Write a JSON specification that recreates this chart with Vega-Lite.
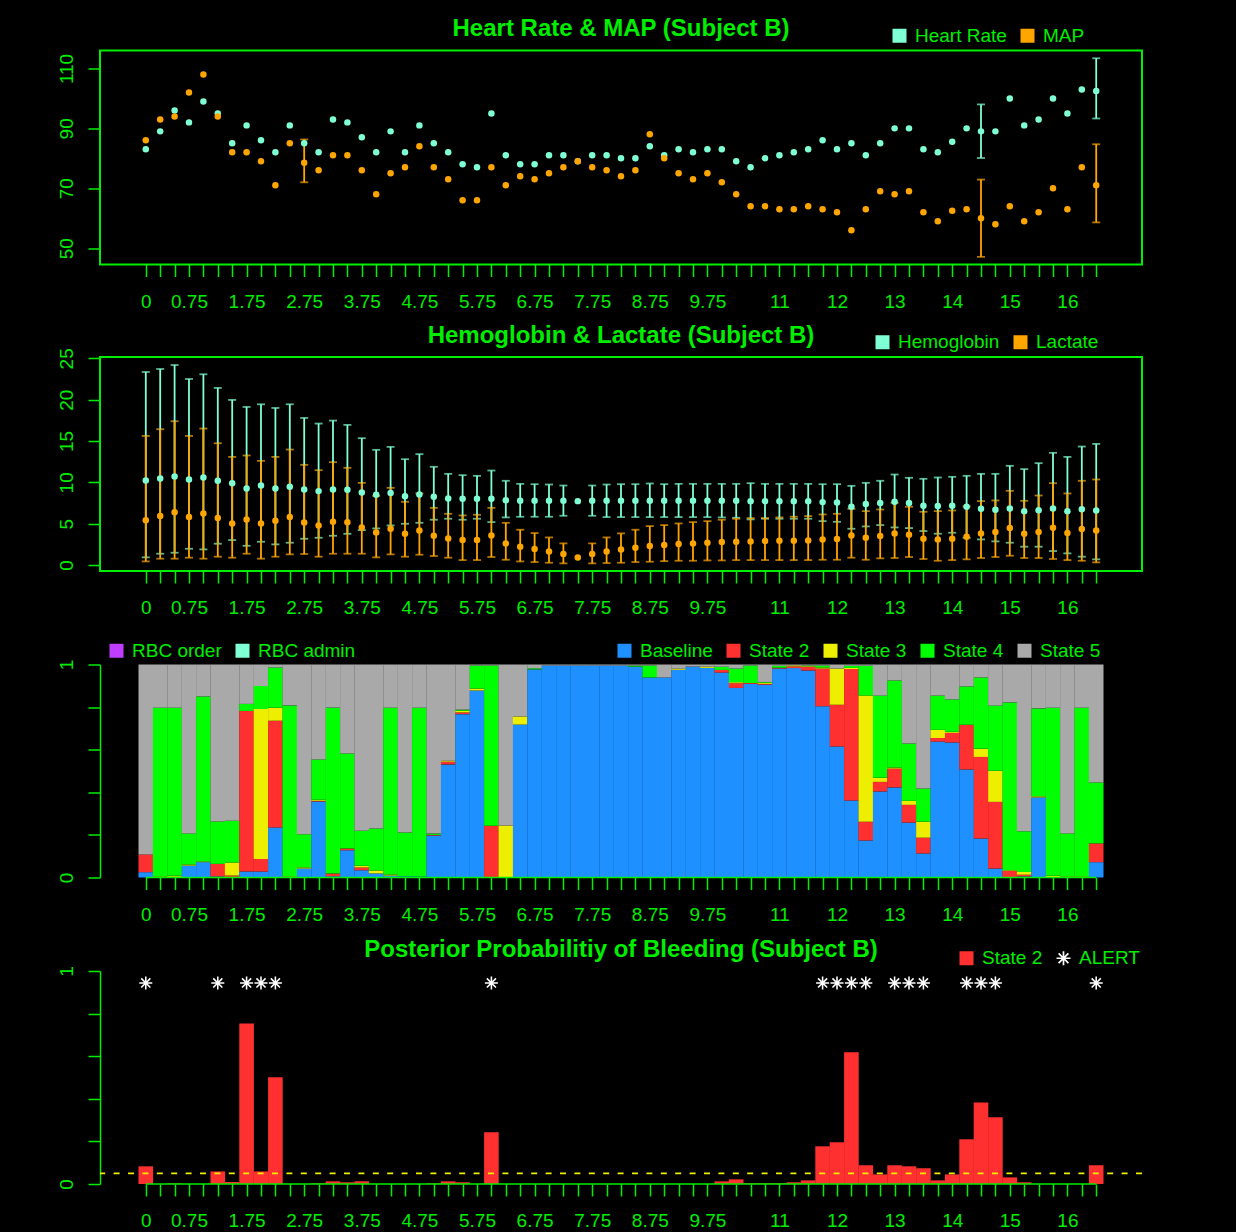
{
"$schema": "https://vega.github.io/schema/vega-lite/v6.json",
"background": "black",
"padding": {"left": 55, "top": 15.5, "right": 94, "bottom": 2},
"spacing": 9.5,
"config": {
  "font": "Liberation Sans",
  "view": {"stroke": null},
  "axis": {"domainColor": "#00EE00", "tickColor": "#00EE00", "labelColor": "#00EE00", "labelFontSize": 19, "labelFont": "Liberation Sans", "tickSize": 12, "tickWidth": 1.5, "domainWidth": 1.5, "grid": false, "labelOverlap": false, "labelFlush": false, "labelBound": false},
  "legend": {"orient": "none", "direction": "horizontal", "title": null, "labelColor": "#00EE00", "labelFontSize": 19, "labelFont": "Liberation Sans", "symbolType": "square", "symbolSize": 196, "symbolStrokeWidth": 0, "symbolOpacity": 1, "columnPadding": 11, "labelOffset": 6, "padding": 0},
  "title": {"color": "#00EE00", "fontSize": 24, "font": "Liberation Sans", "fontWeight": "bold", "anchor": "middle", "frame": "group", "offset": 0}
},
"resolve": {"scale": {"color": "independent", "shape": "independent", "y": "independent", "x": "independent"}, "legend": {"color": "independent", "shape": "independent"}},
"datasets": {
"vitals": [
{"t":0,"s":"Heart Rate","v":83},{"t":0.25,"s":"Heart Rate","v":89},{"t":0.5,"s":"Heart Rate","v":96},{"t":0.75,"s":"Heart Rate","v":92},{"t":1,"s":"Heart Rate","v":99},{"t":1.25,"s":"Heart Rate","v":95},{"t":1.5,"s":"Heart Rate","v":85},{"t":1.75,"s":"Heart Rate","v":91},{"t":2,"s":"Heart Rate","v":86},{"t":2.25,"s":"Heart Rate","v":82},{"t":2.5,"s":"Heart Rate","v":91},{"t":2.75,"s":"Heart Rate","v":85},{"t":3,"s":"Heart Rate","v":82},{"t":3.25,"s":"Heart Rate","v":93},{"t":3.5,"s":"Heart Rate","v":92},{"t":3.75,"s":"Heart Rate","v":87},{"t":4,"s":"Heart Rate","v":82},{"t":4.25,"s":"Heart Rate","v":89},{"t":4.5,"s":"Heart Rate","v":82},{"t":4.75,"s":"Heart Rate","v":91},{"t":5,"s":"Heart Rate","v":85},{"t":5.25,"s":"Heart Rate","v":82},{"t":5.5,"s":"Heart Rate","v":78},{"t":5.75,"s":"Heart Rate","v":77},{"t":6,"s":"Heart Rate","v":95},{"t":6.25,"s":"Heart Rate","v":81},{"t":6.5,"s":"Heart Rate","v":78},{"t":6.75,"s":"Heart Rate","v":78},{"t":7,"s":"Heart Rate","v":81},{"t":7.25,"s":"Heart Rate","v":81},{"t":7.5,"s":"Heart Rate","v":79},{"t":7.75,"s":"Heart Rate","v":81},{"t":8,"s":"Heart Rate","v":81},{"t":8.25,"s":"Heart Rate","v":80},{"t":8.5,"s":"Heart Rate","v":80},{"t":8.75,"s":"Heart Rate","v":84},{"t":9,"s":"Heart Rate","v":81},{"t":9.25,"s":"Heart Rate","v":83},{"t":9.5,"s":"Heart Rate","v":82},{"t":9.75,"s":"Heart Rate","v":83},{"t":10,"s":"Heart Rate","v":83},{"t":10.25,"s":"Heart Rate","v":79},{"t":10.5,"s":"Heart Rate","v":77},{"t":10.75,"s":"Heart Rate","v":80},{"t":11,"s":"Heart Rate","v":81},{"t":11.25,"s":"Heart Rate","v":82},{"t":11.5,"s":"Heart Rate","v":83},{"t":11.75,"s":"Heart Rate","v":86},{"t":12,"s":"Heart Rate","v":83},{"t":12.25,"s":"Heart Rate","v":85},{"t":12.5,"s":"Heart Rate","v":81},{"t":12.75,"s":"Heart Rate","v":85},{"t":13,"s":"Heart Rate","v":90},{"t":13.25,"s":"Heart Rate","v":90},{"t":13.5,"s":"Heart Rate","v":83},{"t":13.75,"s":"Heart Rate","v":82},{"t":14,"s":"Heart Rate","v":85.5},{"t":14.25,"s":"Heart Rate","v":90},{"t":14.5,"s":"Heart Rate","v":89,"lo":80.1,"hi":98},{"t":14.75,"s":"Heart Rate","v":89},{"t":15,"s":"Heart Rate","v":100},{"t":15.25,"s":"Heart Rate","v":91},{"t":15.5,"s":"Heart Rate","v":93},{"t":15.75,"s":"Heart Rate","v":100},{"t":16,"s":"Heart Rate","v":95},{"t":16.25,"s":"Heart Rate","v":103},{"t":16.5,"s":"Heart Rate","v":102.5,"lo":93.3,"hi":113.4},
{"t":0,"s":"MAP","v":86},{"t":0.25,"s":"MAP","v":93},{"t":0.5,"s":"MAP","v":94},{"t":0.75,"s":"MAP","v":102},{"t":1,"s":"MAP","v":108},{"t":1.25,"s":"MAP","v":94},{"t":1.5,"s":"MAP","v":82},{"t":1.75,"s":"MAP","v":82},{"t":2,"s":"MAP","v":79},{"t":2.25,"s":"MAP","v":71},{"t":2.5,"s":"MAP","v":85},{"t":2.75,"s":"MAP","v":78.5,"lo":72,"hi":86.3},{"t":3,"s":"MAP","v":76},{"t":3.25,"s":"MAP","v":81},{"t":3.5,"s":"MAP","v":81},{"t":3.75,"s":"MAP","v":76},{"t":4,"s":"MAP","v":68},{"t":4.25,"s":"MAP","v":75},{"t":4.5,"s":"MAP","v":77},{"t":4.75,"s":"MAP","v":84},{"t":5,"s":"MAP","v":77},{"t":5.25,"s":"MAP","v":73},{"t":5.5,"s":"MAP","v":66},{"t":5.75,"s":"MAP","v":66},{"t":6,"s":"MAP","v":77},{"t":6.25,"s":"MAP","v":71},{"t":6.5,"s":"MAP","v":74},{"t":6.75,"s":"MAP","v":73},{"t":7,"s":"MAP","v":75},{"t":7.25,"s":"MAP","v":77},{"t":7.5,"s":"MAP","v":79},{"t":7.75,"s":"MAP","v":77},{"t":8,"s":"MAP","v":76},{"t":8.25,"s":"MAP","v":74},{"t":8.5,"s":"MAP","v":76},{"t":8.75,"s":"MAP","v":88},{"t":9,"s":"MAP","v":80},{"t":9.25,"s":"MAP","v":75},{"t":9.5,"s":"MAP","v":73},{"t":9.75,"s":"MAP","v":75},{"t":10,"s":"MAP","v":72},{"t":10.25,"s":"MAP","v":68},{"t":10.5,"s":"MAP","v":64},{"t":10.75,"s":"MAP","v":64},{"t":11,"s":"MAP","v":63},{"t":11.25,"s":"MAP","v":63},{"t":11.5,"s":"MAP","v":64},{"t":11.75,"s":"MAP","v":63},{"t":12,"s":"MAP","v":62},{"t":12.25,"s":"MAP","v":56},{"t":12.5,"s":"MAP","v":63},{"t":12.75,"s":"MAP","v":69},{"t":13,"s":"MAP","v":68},{"t":13.25,"s":"MAP","v":69},{"t":13.5,"s":"MAP","v":62},{"t":13.75,"s":"MAP","v":59},{"t":14,"s":"MAP","v":62.5},{"t":14.25,"s":"MAP","v":63},{"t":14.5,"s":"MAP","v":60,"lo":47.1,"hi":72.9},{"t":14.75,"s":"MAP","v":58},{"t":15,"s":"MAP","v":64},{"t":15.25,"s":"MAP","v":59},{"t":15.5,"s":"MAP","v":62},{"t":15.75,"s":"MAP","v":70},{"t":16,"s":"MAP","v":63},{"t":16.25,"s":"MAP","v":77},{"t":16.5,"s":"MAP","v":71,"lo":58.6,"hi":84.7}
],
"labs": [
{"t":0,"s":"Hemoglobin","v":10.23,"lo":0.93,"hi":23.35},{"t":0.25,"s":"Hemoglobin","v":10.47,"lo":1.37,"hi":23.71},{"t":0.5,"s":"Hemoglobin","v":10.71,"lo":1.49,"hi":24.19},{"t":0.75,"s":"Hemoglobin","v":10.35,"lo":1.97,"hi":22.5},{"t":1,"s":"Hemoglobin","v":10.59,"lo":1.89,"hi":23.07},{"t":1.25,"s":"Hemoglobin","v":10.19,"lo":2.58,"hi":21.42},{"t":1.5,"s":"Hemoglobin","v":9.9,"lo":3.02,"hi":19.97},{"t":1.75,"s":"Hemoglobin","v":9.26,"lo":2.33,"hi":19.12},{"t":2,"s":"Hemoglobin","v":9.62,"lo":2.82,"hi":19.44},{"t":2.25,"s":"Hemoglobin","v":9.26,"lo":2.5,"hi":19.0},{"t":2.5,"s":"Hemoglobin","v":9.46,"lo":2.7,"hi":19.44},{"t":2.75,"s":"Hemoglobin","v":9.14,"lo":3.18,"hi":17.79},{"t":3,"s":"Hemoglobin","v":8.94,"lo":3.3,"hi":17.11},{"t":3.25,"s":"Hemoglobin","v":9.14,"lo":3.54,"hi":17.47},{"t":3.5,"s":"Hemoglobin","v":9.1,"lo":3.78,"hi":16.95},{"t":3.75,"s":"Hemoglobin","v":8.78,"lo":4.23,"hi":15.34},{"t":4,"s":"Hemoglobin","v":8.49,"lo":4.43,"hi":13.93},{"t":4.25,"s":"Hemoglobin","v":8.7,"lo":4.79,"hi":14.29},{"t":4.5,"s":"Hemoglobin","v":8.33,"lo":4.99,"hi":12.8},{"t":4.75,"s":"Hemoglobin","v":8.53,"lo":5.11,"hi":13.41},{"t":5,"s":"Hemoglobin","v":8.25,"lo":5.48,"hi":11.88},{"t":5.25,"s":"Hemoglobin","v":8.05,"lo":5.6,"hi":11.03},{"t":5.5,"s":"Hemoglobin","v":8.01,"lo":5.48,"hi":10.87},{"t":5.75,"s":"Hemoglobin","v":8.01,"lo":5.6,"hi":10.79},{"t":6,"s":"Hemoglobin","v":8.01,"lo":5.19,"hi":11.43},{"t":6.25,"s":"Hemoglobin","v":7.85,"lo":5.76,"hi":10.19},{"t":6.5,"s":"Hemoglobin","v":7.77,"lo":5.84,"hi":9.82},{"t":6.75,"s":"Hemoglobin","v":7.77,"lo":5.84,"hi":9.78},{"t":7,"s":"Hemoglobin","v":7.77,"lo":5.84,"hi":9.74},{"t":7.25,"s":"Hemoglobin","v":7.77,"lo":5.96,"hi":9.62},{"t":7.5,"s":"Hemoglobin","v":7.73},{"t":7.75,"s":"Hemoglobin","v":7.77,"lo":5.96,"hi":9.62},{"t":8,"s":"Hemoglobin","v":7.77,"lo":5.8,"hi":9.74},{"t":8.25,"s":"Hemoglobin","v":7.77,"lo":5.8,"hi":9.78},{"t":8.5,"s":"Hemoglobin","v":7.77,"lo":5.8,"hi":9.78},{"t":8.75,"s":"Hemoglobin","v":7.77,"lo":5.8,"hi":9.86},{"t":9,"s":"Hemoglobin","v":7.77,"lo":5.8,"hi":9.78},{"t":9.25,"s":"Hemoglobin","v":7.77,"lo":5.8,"hi":9.82},{"t":9.5,"s":"Hemoglobin","v":7.77,"lo":5.8,"hi":9.82},{"t":9.75,"s":"Hemoglobin","v":7.77,"lo":5.8,"hi":9.82},{"t":10,"s":"Hemoglobin","v":7.77,"lo":5.76,"hi":9.82},{"t":10.25,"s":"Hemoglobin","v":7.77,"lo":5.72,"hi":9.82},{"t":10.5,"s":"Hemoglobin","v":7.73,"lo":5.52,"hi":9.9},{"t":10.75,"s":"Hemoglobin","v":7.73,"lo":5.6,"hi":9.82},{"t":11,"s":"Hemoglobin","v":7.73,"lo":5.6,"hi":9.82},{"t":11.25,"s":"Hemoglobin","v":7.73,"lo":5.6,"hi":9.82},{"t":11.5,"s":"Hemoglobin","v":7.73,"lo":5.6,"hi":9.82},{"t":11.75,"s":"Hemoglobin","v":7.61,"lo":5.31,"hi":9.78},{"t":12,"s":"Hemoglobin","v":7.57,"lo":5.23,"hi":9.78},{"t":12.25,"s":"Hemoglobin","v":7.05,"lo":4.39,"hi":9.58},{"t":12.5,"s":"Hemoglobin","v":7.37,"lo":4.67,"hi":9.94},{"t":12.75,"s":"Hemoglobin","v":7.49,"lo":4.83,"hi":10.19},{"t":13,"s":"Hemoglobin","v":7.65,"lo":4.55,"hi":10.95},{"t":13.25,"s":"Hemoglobin","v":7.49,"lo":4.47,"hi":10.55},{"t":13.5,"s":"Hemoglobin","v":7.17,"lo":4.11,"hi":10.43},{"t":13.75,"s":"Hemoglobin","v":7.13,"lo":3.79,"hi":10.59},{"t":14,"s":"Hemoglobin","v":7.17,"lo":3.91,"hi":10.67},{"t":14.25,"s":"Hemoglobin","v":7.05,"lo":3.3,"hi":10.79},{"t":14.5,"s":"Hemoglobin","v":6.8,"lo":3.1,"hi":11.03},{"t":14.75,"s":"Hemoglobin","v":6.68,"lo":2.86,"hi":11.03},{"t":15,"s":"Hemoglobin","v":6.84,"lo":2.7,"hi":12.0},{"t":15.25,"s":"Hemoglobin","v":6.52,"lo":2.22,"hi":11.6},{"t":15.5,"s":"Hemoglobin","v":6.64,"lo":2.22,"hi":12.32},{"t":15.75,"s":"Hemoglobin","v":6.84,"lo":1.69,"hi":13.57},{"t":16,"s":"Hemoglobin","v":6.52,"lo":1.41,"hi":13.08},{"t":16.25,"s":"Hemoglobin","v":6.76,"lo":1.01,"hi":14.33},{"t":16.5,"s":"Hemoglobin","v":6.6,"lo":0.69,"hi":14.65},
{"t":0,"s":"Lactate","v":5.43,"lo":0.44,"hi":15.62},{"t":0.25,"s":"Lactate","v":5.92,"lo":0.77,"hi":16.43},{"t":0.5,"s":"Lactate","v":6.4,"lo":0.77,"hi":17.39},{"t":0.75,"s":"Lactate","v":5.8,"lo":0.89,"hi":15.62},{"t":1,"s":"Lactate","v":6.24,"lo":0.77,"hi":16.51},{"t":1.25,"s":"Lactate","v":5.68,"lo":1.01,"hi":14.73},{"t":1.5,"s":"Lactate","v":5.03,"lo":0.89,"hi":13.08},{"t":1.75,"s":"Lactate","v":5.52,"lo":1.37,"hi":13.25},{"t":2,"s":"Lactate","v":5.03,"lo":0.77,"hi":12.6},{"t":2.25,"s":"Lactate","v":5.35,"lo":1.01,"hi":13.08},{"t":2.5,"s":"Lactate","v":5.8,"lo":1.29,"hi":13.97},{"t":2.75,"s":"Lactate","v":5.15,"lo":1.33,"hi":12.12},{"t":3,"s":"Lactate","v":4.79,"lo":1.01,"hi":11.47},{"t":3.25,"s":"Lactate","v":5.23,"lo":1.37,"hi":12.44},{"t":3.5,"s":"Lactate","v":5.19,"lo":1.37,"hi":11.76},{"t":3.75,"s":"Lactate","v":4.55,"lo":1.37,"hi":9.94},{"t":4,"s":"Lactate","v":3.95,"lo":0.93,"hi":8.37},{"t":4.25,"s":"Lactate","v":4.39,"lo":1.29,"hi":9.34},{"t":4.5,"s":"Lactate","v":3.78,"lo":1.01,"hi":7.65},{"t":4.75,"s":"Lactate","v":4.19,"lo":1.25,"hi":8.66},{"t":5,"s":"Lactate","v":3.54,"lo":1.09,"hi":6.92},{"t":5.25,"s":"Lactate","v":3.22,"lo":0.89,"hi":6.2},{"t":5.5,"s":"Lactate","v":3.02,"lo":0.6,"hi":6.0},{"t":5.75,"s":"Lactate","v":3.02,"lo":0.6,"hi":6.08},{"t":6,"s":"Lactate","v":3.58,"lo":0.97,"hi":6.92},{"t":6.25,"s":"Lactate","v":2.62,"lo":0.64,"hi":5.11},{"t":6.5,"s":"Lactate","v":2.21,"lo":0.44,"hi":4.27},{"t":6.75,"s":"Lactate","v":1.93,"lo":0.36,"hi":3.87},{"t":7,"s":"Lactate","v":1.65,"lo":0.28,"hi":3.34},{"t":7.25,"s":"Lactate","v":1.33,"lo":0.2,"hi":2.62},{"t":7.5,"s":"Lactate","v":0.9},{"t":7.75,"s":"Lactate","v":1.33,"lo":0.2,"hi":2.62},{"t":8,"s":"Lactate","v":1.65,"lo":0.24,"hi":3.34},{"t":8.25,"s":"Lactate","v":1.89,"lo":0.28,"hi":3.83},{"t":8.5,"s":"Lactate","v":2.09,"lo":0.36,"hi":4.27},{"t":8.75,"s":"Lactate","v":2.3,"lo":0.4,"hi":4.71},{"t":9,"s":"Lactate","v":2.42,"lo":0.48,"hi":4.83},{"t":9.25,"s":"Lactate","v":2.54,"lo":0.52,"hi":5.03},{"t":9.5,"s":"Lactate","v":2.62,"lo":0.52,"hi":5.19},{"t":9.75,"s":"Lactate","v":2.7,"lo":0.56,"hi":5.31},{"t":10,"s":"Lactate","v":2.78,"lo":0.56,"hi":5.48},{"t":10.25,"s":"Lactate","v":2.82,"lo":0.6,"hi":5.6},{"t":10.5,"s":"Lactate","v":2.86,"lo":0.6,"hi":5.68},{"t":10.75,"s":"Lactate","v":2.9,"lo":0.6,"hi":5.68},{"t":11,"s":"Lactate","v":2.94,"lo":0.6,"hi":5.76},{"t":11.25,"s":"Lactate","v":2.94,"lo":0.6,"hi":5.84},{"t":11.5,"s":"Lactate","v":2.98,"lo":0.6,"hi":5.92},{"t":11.75,"s":"Lactate","v":3.1,"lo":0.64,"hi":6.12},{"t":12,"s":"Lactate","v":3.14,"lo":0.64,"hi":6.2},{"t":12.25,"s":"Lactate","v":3.58,"lo":0.89,"hi":6.8},{"t":12.5,"s":"Lactate","v":3.3,"lo":0.64,"hi":6.52},{"t":12.75,"s":"Lactate","v":3.5,"lo":0.81,"hi":6.72},{"t":13,"s":"Lactate","v":3.83,"lo":0.85,"hi":7.53},{"t":13.25,"s":"Lactate","v":3.66,"lo":0.97,"hi":7.05},{"t":13.5,"s":"Lactate","v":3.18,"lo":0.73,"hi":6.44},{"t":13.75,"s":"Lactate","v":3.1,"lo":0.52,"hi":6.52},{"t":14,"s":"Lactate","v":3.18,"lo":0.6,"hi":6.6},{"t":14.25,"s":"Lactate","v":3.42,"lo":0.69,"hi":7.09},{"t":14.5,"s":"Lactate","v":3.83,"lo":0.85,"hi":7.73},{"t":14.75,"s":"Lactate","v":3.99,"lo":0.97,"hi":7.81},{"t":15,"s":"Lactate","v":4.47,"lo":1.13,"hi":8.98},{"t":15.25,"s":"Lactate","v":3.79,"lo":0.85,"hi":7.77},{"t":15.5,"s":"Lactate","v":3.99,"lo":0.85,"hi":8.41},{"t":15.75,"s":"Lactate","v":4.51,"lo":0.73,"hi":9.9},{"t":16,"s":"Lactate","v":3.87,"lo":0.6,"hi":8.66},{"t":16.25,"s":"Lactate","v":4.35,"lo":0.52,"hi":10.19},{"t":16.5,"s":"Lactate","v":4.19,"lo":0.32,"hi":10.35}
],
"states": [
{"t":0,"s":"Baseline","p":0.025},{"t":0,"s":"State 2","p":0.083},{"t":0,"s":"State 5","p":0.892},
{"t":0.25,"s":"State 3","p":0.005},{"t":0.25,"s":"State 4","p":0.792},{"t":0.25,"s":"State 5","p":0.203},
{"t":0.5,"s":"State 2","p":0.003},{"t":0.5,"s":"State 3","p":0.005},{"t":0.5,"s":"State 4","p":0.789},{"t":0.5,"s":"State 5","p":0.203},
{"t":0.75,"s":"Baseline","p":0.056},{"t":0.75,"s":"State 3","p":0.005},{"t":0.75,"s":"State 4","p":0.146},{"t":0.75,"s":"State 5","p":0.793},
{"t":1,"s":"Baseline","p":0.072},{"t":1,"s":"State 3","p":0.003},{"t":1,"s":"State 4","p":0.775},{"t":1,"s":"State 5","p":0.15},
{"t":1.25,"s":"Baseline","p":0.005},{"t":1.25,"s":"State 2","p":0.059},{"t":1.25,"s":"State 4","p":0.199},{"t":1.25,"s":"State 5","p":0.737},
{"t":1.5,"s":"State 2","p":0.009},{"t":1.5,"s":"State 3","p":0.061},{"t":1.5,"s":"State 4","p":0.197},{"t":1.5,"s":"State 5","p":0.733},
{"t":1.75,"s":"Baseline","p":0.028},{"t":1.75,"s":"State 2","p":0.754},{"t":1.75,"s":"State 4","p":0.033},{"t":1.75,"s":"State 5","p":0.185},
{"t":2,"s":"Baseline","p":0.028},{"t":2,"s":"State 2","p":0.059},{"t":2,"s":"State 3","p":0.704},{"t":2,"s":"State 4","p":0.108},{"t":2,"s":"State 5","p":0.101},
{"t":2.25,"s":"Baseline","p":0.235},{"t":2.25,"s":"State 2","p":0.501},{"t":2.25,"s":"State 3","p":0.061},{"t":2.25,"s":"State 4","p":0.189},{"t":2.25,"s":"State 5","p":0.014},
{"t":2.5,"s":"State 3","p":0.005},{"t":2.5,"s":"State 4","p":0.803},{"t":2.5,"s":"State 5","p":0.192},
{"t":2.75,"s":"Baseline","p":0.042},{"t":2.75,"s":"State 3","p":0.005},{"t":2.75,"s":"State 4","p":0.156},{"t":2.75,"s":"State 5","p":0.797},
{"t":3,"s":"Baseline","p":0.357},{"t":3,"s":"State 2","p":0.003},{"t":3,"s":"State 3","p":0.005},{"t":3,"s":"State 4","p":0.189},{"t":3,"s":"State 5","p":0.446},
{"t":3.25,"s":"Baseline","p":0.006},{"t":3.25,"s":"State 2","p":0.0125},{"t":3.25,"s":"State 4","p":0.779},{"t":3.25,"s":"State 5","p":0.2025},
{"t":3.5,"s":"Baseline","p":0.128},{"t":3.5,"s":"State 2","p":0.008},{"t":3.5,"s":"State 4","p":0.446},{"t":3.5,"s":"State 5","p":0.418},
{"t":3.75,"s":"Baseline","p":0.034},{"t":3.75,"s":"State 2","p":0.0125},{"t":3.75,"s":"State 3","p":0.009},{"t":3.75,"s":"State 4","p":0.164},{"t":3.75,"s":"State 5","p":0.7805},
{"t":4,"s":"Baseline","p":0.019},{"t":4,"s":"State 3","p":0.014},{"t":4,"s":"State 4","p":0.197},{"t":4,"s":"State 5","p":0.77},
{"t":4.25,"s":"Baseline","p":0.009},{"t":4.25,"s":"State 3","p":0.005},{"t":4.25,"s":"State 4","p":0.783},{"t":4.25,"s":"State 5","p":0.203},
{"t":4.5,"s":"Baseline","p":0.006},{"t":4.5,"s":"State 4","p":0.205},{"t":4.5,"s":"State 5","p":0.789},
{"t":4.75,"s":"Baseline","p":0.005},{"t":4.75,"s":"State 4","p":0.792},{"t":4.75,"s":"State 5","p":0.203},
{"t":5,"s":"Baseline","p":0.197},{"t":5,"s":"State 2","p":0.003},{"t":5,"s":"State 4","p":0.006},{"t":5,"s":"State 5","p":0.794},
{"t":5.25,"s":"Baseline","p":0.531},{"t":5.25,"s":"State 2","p":0.0125},{"t":5.25,"s":"State 3","p":0.005},{"t":5.25,"s":"State 5","p":0.4515},
{"t":5.5,"s":"Baseline","p":0.767},{"t":5.5,"s":"State 2","p":0.008},{"t":5.5,"s":"State 3","p":0.008},{"t":5.5,"s":"State 4","p":0.005},{"t":5.5,"s":"State 5","p":0.212},
{"t":5.75,"s":"Baseline","p":0.878},{"t":5.75,"s":"State 3","p":0.009},{"t":5.75,"s":"State 4","p":0.108},{"t":5.75,"s":"State 5","p":0.005},
{"t":6,"s":"State 2","p":0.243},{"t":6,"s":"State 4","p":0.752},{"t":6,"s":"State 5","p":0.005},
{"t":6.25,"s":"State 3","p":0.244},{"t":6.25,"s":"State 5","p":0.756},
{"t":6.5,"s":"Baseline","p":0.718},{"t":6.5,"s":"State 3","p":0.038},{"t":6.5,"s":"State 5","p":0.244},
{"t":6.75,"s":"Baseline","p":0.977},{"t":6.75,"s":"State 4","p":0.005},{"t":6.75,"s":"State 5","p":0.018},
{"t":7,"s":"Baseline","p":0.995},{"t":7,"s":"State 5","p":0.005},
{"t":7.25,"s":"Baseline","p":0.995},{"t":7.25,"s":"State 5","p":0.005},
{"t":7.5,"s":"Baseline","p":0.995},{"t":7.5,"s":"State 5","p":0.005},
{"t":7.75,"s":"Baseline","p":0.995},{"t":7.75,"s":"State 5","p":0.005},
{"t":8,"s":"Baseline","p":0.995},{"t":8,"s":"State 5","p":0.005},
{"t":8.25,"s":"Baseline","p":0.995},{"t":8.25,"s":"State 5","p":0.005},
{"t":8.5,"s":"Baseline","p":0.99},{"t":8.5,"s":"State 4","p":0.005},{"t":8.5,"s":"State 5","p":0.005},
{"t":8.75,"s":"Baseline","p":0.939},{"t":8.75,"s":"State 4","p":0.056},{"t":8.75,"s":"State 5","p":0.005},
{"t":9,"s":"Baseline","p":0.939},{"t":9,"s":"State 5","p":0.061},
{"t":9.25,"s":"Baseline","p":0.975},{"t":9.25,"s":"State 3","p":0.005},{"t":9.25,"s":"State 5","p":0.02},
{"t":9.5,"s":"Baseline","p":0.99},{"t":9.5,"s":"State 5","p":0.01},
{"t":9.75,"s":"Baseline","p":0.984},{"t":9.75,"s":"State 3","p":0.006},{"t":9.75,"s":"State 5","p":0.01},
{"t":10,"s":"Baseline","p":0.962},{"t":10,"s":"State 2","p":0.0125},{"t":10,"s":"State 4","p":0.015},{"t":10,"s":"State 5","p":0.0105},
{"t":10.25,"s":"Baseline","p":0.89},{"t":10.25,"s":"State 2","p":0.022},{"t":10.25,"s":"State 3","p":0.005},{"t":10.25,"s":"State 4","p":0.064},{"t":10.25,"s":"State 5","p":0.019},
{"t":10.5,"s":"Baseline","p":0.909},{"t":10.5,"s":"State 2","p":0.004},{"t":10.5,"s":"State 4","p":0.082},{"t":10.5,"s":"State 5","p":0.005},
{"t":10.75,"s":"Baseline","p":0.905},{"t":10.75,"s":"State 2","p":0.004},{"t":10.75,"s":"State 3","p":0.006},{"t":10.75,"s":"State 4","p":0.003},{"t":10.75,"s":"State 5","p":0.082},
{"t":11,"s":"Baseline","p":0.981},{"t":11,"s":"State 2","p":0.004},{"t":11,"s":"State 4","p":0.009},{"t":11,"s":"State 5","p":0.006},
{"t":11.25,"s":"Baseline","p":0.983},{"t":11.25,"s":"State 2","p":0.008},{"t":11.25,"s":"State 3","p":0.005},{"t":11.25,"s":"State 5","p":0.004},
{"t":11.5,"s":"Baseline","p":0.972},{"t":11.5,"s":"State 2","p":0.017},{"t":11.5,"s":"State 3","p":0.003},{"t":11.5,"s":"State 4","p":0.003},{"t":11.5,"s":"State 5","p":0.005},
{"t":11.75,"s":"Baseline","p":0.804},{"t":11.75,"s":"State 2","p":0.177},{"t":11.75,"s":"State 3","p":0.005},{"t":11.75,"s":"State 4","p":0.009},{"t":11.75,"s":"State 5","p":0.005},
{"t":12,"s":"Baseline","p":0.615},{"t":12,"s":"State 2","p":0.196},{"t":12,"s":"State 3","p":0.17},{"t":12,"s":"State 5","p":0.019},
{"t":12.25,"s":"Baseline","p":0.361},{"t":12.25,"s":"State 2","p":0.618},{"t":12.25,"s":"State 3","p":0.005},{"t":12.25,"s":"State 4","p":0.01},{"t":12.25,"s":"State 5","p":0.006},
{"t":12.5,"s":"Baseline","p":0.174},{"t":12.5,"s":"State 2","p":0.088},{"t":12.5,"s":"State 3","p":0.592},{"t":12.5,"s":"State 4","p":0.14},{"t":12.5,"s":"State 5","p":0.006},
{"t":12.75,"s":"Baseline","p":0.404},{"t":12.75,"s":"State 2","p":0.045},{"t":12.75,"s":"State 3","p":0.019},{"t":12.75,"s":"State 4","p":0.386},{"t":12.75,"s":"State 5","p":0.146},
{"t":13,"s":"Baseline","p":0.423},{"t":13,"s":"State 2","p":0.088},{"t":13,"s":"State 3","p":0.005},{"t":13,"s":"State 4","p":0.409},{"t":13,"s":"State 5","p":0.075},
{"t":13.25,"s":"Baseline","p":0.258},{"t":13.25,"s":"State 2","p":0.083},{"t":13.25,"s":"State 3","p":0.019},{"t":13.25,"s":"State 4","p":0.269},{"t":13.25,"s":"State 5","p":0.371},
{"t":13.5,"s":"Baseline","p":0.113},{"t":13.5,"s":"State 2","p":0.074},{"t":13.5,"s":"State 3","p":0.075},{"t":13.5,"s":"State 4","p":0.156},{"t":13.5,"s":"State 5","p":0.582},
{"t":13.75,"s":"Baseline","p":0.638},{"t":13.75,"s":"State 2","p":0.017},{"t":13.75,"s":"State 3","p":0.038},{"t":13.75,"s":"State 4","p":0.161},{"t":13.75,"s":"State 5","p":0.146},
{"t":14,"s":"Baseline","p":0.634},{"t":14,"s":"State 2","p":0.045},{"t":14,"s":"State 3","p":0.005},{"t":14,"s":"State 4","p":0.152},{"t":14,"s":"State 5","p":0.164},
{"t":14.25,"s":"Baseline","p":0.507},{"t":14.25,"s":"State 2","p":0.21},{"t":14.25,"s":"State 4","p":0.18},{"t":14.25,"s":"State 5","p":0.103},
{"t":14.5,"s":"Baseline","p":0.183},{"t":14.5,"s":"State 2","p":0.383},{"t":14.5,"s":"State 3","p":0.038},{"t":14.5,"s":"State 4","p":0.335},{"t":14.5,"s":"State 5","p":0.061},
{"t":14.75,"s":"Baseline","p":0.042},{"t":14.75,"s":"State 2","p":0.313},{"t":14.75,"s":"State 3","p":0.146},{"t":14.75,"s":"State 4","p":0.306},{"t":14.75,"s":"State 5","p":0.193},
{"t":15,"s":"State 2","p":0.031},{"t":15,"s":"State 3","p":0.003},{"t":15,"s":"State 4","p":0.788},{"t":15,"s":"State 5","p":0.178},
{"t":15.25,"s":"Baseline","p":0.005},{"t":15.25,"s":"State 2","p":0.008},{"t":15.25,"s":"State 3","p":0.013},{"t":15.25,"s":"State 4","p":0.191},{"t":15.25,"s":"State 5","p":0.783},
{"t":15.5,"s":"Baseline","p":0.376},{"t":15.5,"s":"State 3","p":0.005},{"t":15.5,"s":"State 4","p":0.413},{"t":15.5,"s":"State 5","p":0.206},
{"t":15.75,"s":"State 3","p":0.008},{"t":15.75,"s":"State 4","p":0.789},{"t":15.75,"s":"State 5","p":0.203},
{"t":16,"s":"State 3","p":0.005},{"t":16,"s":"State 4","p":0.202},{"t":16,"s":"State 5","p":0.793},
{"t":16.25,"s":"State 3","p":0.005},{"t":16.25,"s":"State 4","p":0.792},{"t":16.25,"s":"State 5","p":0.203},
{"t":16.5,"s":"Baseline","p":0.072},{"t":16.5,"s":"State 2","p":0.088},{"t":16.5,"s":"State 4","p":0.286},{"t":16.5,"s":"State 5","p":0.554}
],
"alerts": [
{"t":0,"s":"ALERT"},{"t":1.25,"s":"ALERT"},{"t":1.75,"s":"ALERT"},{"t":2,"s":"ALERT"},{"t":2.25,"s":"ALERT"},{"t":6,"s":"ALERT"},{"t":11.75,"s":"ALERT"},{"t":12,"s":"ALERT"},{"t":12.25,"s":"ALERT"},{"t":12.5,"s":"ALERT"},{"t":13,"s":"ALERT"},{"t":13.25,"s":"ALERT"},{"t":13.5,"s":"ALERT"},{"t":14.25,"s":"ALERT"},{"t":14.5,"s":"ALERT"},{"t":14.75,"s":"ALERT"},{"t":16.5,"s":"ALERT"}
]
},
"vconcat": [
{
  "width": 1042, "height": 214,
  "view": {"stroke": "#00EE00", "strokeWidth": 2},
  "title": {"text": "Heart Rate & MAP (Subject B)", "dy": 19},
  "data": {"name": "vitals"},
  "layer": [
    {"transform": [{"filter": "isValid(datum.lo)"}],
     "mark": {"type": "errorbar", "ticks": true, "thickness": 1.8, "size": 8},
     "encoding": {
       "x": {"field": "t", "type": "quantitative", "title": null, "scale": {"domain": [-0.795, 17.295], "nice": false, "zero": false, "padding": 0}, "axis": {"values": [0,0.25,0.5,0.75,1,1.25,1.5,1.75,2,2.25,2.5,2.75,3,3.25,3.5,3.75,4,4.25,4.5,4.75,5,5.25,5.5,5.75,6,6.25,6.5,6.75,7,7.25,7.5,7.75,8,8.25,8.5,8.75,9,9.25,9.5,9.75,10,10.25,10.5,10.75,11,11.25,11.5,11.75,12,12.25,12.5,12.75,13,13.25,13.5,13.75,14,14.25,14.5,14.75,15,15.25,15.5,15.75,16,16.25,16.5], "tickCount": 500, "labelExpr": "(datum.value < 0.01 || (datum.value < 10 && abs(datum.value % 1 - 0.75) < 0.01) || (datum.value > 10.5 && datum.value < 16.1 && abs(datum.value - round(datum.value)) < 0.01)) ? format(datum.value, '.2~f') : ''", "domain": false, "labelPadding": 15.5, "labelOverlap": false}},
       "y": {"field": "lo", "type": "quantitative", "title": null, "scale": {"domain": [44.55, 116], "nice": false, "zero": false}, "axis": {"values": [50,60,70,80,90,100,110], "labelExpr": "datum.value % 20 == 10 ? '' + datum.value : ''", "labelAngle": 270, "labelAlign": "center", "labelBaseline": "alphabetic", "labelPadding": 16, "domain": false, "labelOverlap": false}},
       "y2": {"field": "hi"},
       "color": {"field": "s", "type": "nominal", "scale": {"domain": ["Heart Rate", "MAP"], "range": ["#7FFFD4", "#FFA500"]}, "legend": {"legendX": 790, "legendY": -24.5, "symbolType": "square", "symbolSize": 196, "symbolOpacity": 1}}
     }},
    {"mark": {"type": "point", "filled": true, "size": 42, "opacity": 1},
     "encoding": {
       "x": {"field": "t", "type": "quantitative", "title": null},
       "y": {"field": "v", "type": "quantitative", "title": null},
       "color": {"field": "s", "type": "nominal", "legend": {"legendX": 790, "legendY": -24.5, "symbolType": "square", "symbolSize": 196, "symbolOpacity": 1}}
     }}
  ]
},
{
  "width": 1042, "height": 214,
  "view": {"stroke": "#00EE00", "strokeWidth": 2},
  "title": {"text": "Hemoglobin & Lactate (Subject B)", "dy": 19},
  "data": {"name": "labs"},
  "layer": [
    {"transform": [{"filter": "isValid(datum.lo)"}],
     "mark": {"type": "errorbar", "ticks": true, "thickness": 1.8, "size": 8},
     "encoding": {
       "x": {"field": "t", "type": "quantitative", "title": null, "scale": {"domain": [-0.795, 17.295], "nice": false, "zero": false, "padding": 0}, "axis": {"values": [0,0.25,0.5,0.75,1,1.25,1.5,1.75,2,2.25,2.5,2.75,3,3.25,3.5,3.75,4,4.25,4.5,4.75,5,5.25,5.5,5.75,6,6.25,6.5,6.75,7,7.25,7.5,7.75,8,8.25,8.5,8.75,9,9.25,9.5,9.75,10,10.25,10.5,10.75,11,11.25,11.5,11.75,12,12.25,12.5,12.75,13,13.25,13.5,13.75,14,14.25,14.5,14.75,15,15.25,15.5,15.75,16,16.25,16.5], "tickCount": 500, "labelExpr": "(datum.value < 0.01 || (datum.value < 10 && abs(datum.value % 1 - 0.75) < 0.01) || (datum.value > 10.5 && datum.value < 16.1 && abs(datum.value - round(datum.value)) < 0.01)) ? format(datum.value, '.2~f') : ''", "domain": false, "labelPadding": 15.5, "labelOverlap": false}},
       "y": {"field": "lo", "type": "quantitative", "title": null, "scale": {"domain": [-0.72, 25.16], "nice": false, "zero": false}, "axis": {"values": [0,5,10,15,20,25], "labelExpr": "'' + datum.value", "labelAngle": 270, "labelAlign": "center", "labelBaseline": "alphabetic", "labelPadding": 16, "domain": false, "labelOverlap": false}},
       "y2": {"field": "hi"},
       "color": {"field": "s", "type": "nominal", "scale": {"domain": ["Hemoglobin", "Lactate"], "range": ["#7FFFD4", "#FFA500"]}, "legend": {"legendX": 773, "legendY": -24.5, "symbolType": "square", "symbolSize": 196, "symbolOpacity": 1}}
     }},
    {"mark": {"type": "point", "filled": true, "size": 42, "opacity": 1},
     "encoding": {
       "x": {"field": "t", "type": "quantitative", "title": null},
       "y": {"field": "v", "type": "quantitative", "title": null},
       "color": {"field": "s", "type": "nominal", "legend": {"legendX": 773, "legendY": -24.5, "symbolType": "square", "symbolSize": 196, "symbolOpacity": 1}}
     }}
  ]
},
{
  "width": 1042, "height": 213,
  "data": {"name": "states"},
  "layer": [
    {"mark": {"type": "bar", "width": 14.6},
     "encoding": {
       "x": {"field": "t", "type": "quantitative", "title": null, "scale": {"domain": [-0.795, 17.295], "nice": false, "zero": false, "padding": 0}, "axis": {"values": [0,0.25,0.5,0.75,1,1.25,1.5,1.75,2,2.25,2.5,2.75,3,3.25,3.5,3.75,4,4.25,4.5,4.75,5,5.25,5.5,5.75,6,6.25,6.5,6.75,7,7.25,7.5,7.75,8,8.25,8.5,8.75,9,9.25,9.5,9.75,10,10.25,10.5,10.75,11,11.25,11.5,11.75,12,12.25,12.5,12.75,13,13.25,13.5,13.75,14,14.25,14.5,14.75,15,15.25,15.5,15.75,16,16.25,16.5], "tickCount": 500, "labelExpr": "(datum.value < 0.01 || (datum.value < 10 && abs(datum.value % 1 - 0.75) < 0.01) || (datum.value > 10.5 && datum.value < 16.1 && abs(datum.value - round(datum.value)) < 0.01)) ? format(datum.value, '.2~f') : ''", "domain": false, "labelPadding": 15.5, "labelOverlap": false}},
       "y": {"field": "p", "type": "quantitative", "title": null, "stack": "zero", "scale": {"domain": [0, 1], "nice": false, "zero": false}, "axis": {"values": [0,0.2,0.4,0.6,0.8,1], "labelExpr": "datum.value == 0 ? '0' : datum.value == 1 ? '1' : ''", "labelAngle": 270, "labelAlign": "center", "labelBaseline": "alphabetic", "labelPadding": 16, "domain": true, "labelOverlap": false}},
       "color": {"field": "s", "type": "nominal", "scale": {"domain": ["Baseline", "State 2", "State 3", "State 4", "State 5"], "range": ["#1E90FF", "#FF3030", "#EEEE00", "#00FF00", "#A9A9A9"]}, "legend": {"legendX": 503, "legendY": -35.5, "padding": 12, "symbolType": "square", "symbolSize": 196}},
       "order": {"field": "s", "sort": "ascending"}
     }},
    {"data": {"values": [{"e": "RBC order", "t": null}, {"e": "RBC admin", "t": null}]},
     "mark": {"type": "square", "size": 100, "filled": true},
     "encoding": {
       "x": {"field": "t", "type": "quantitative", "title": null},
       "color": {"field": "e", "type": "nominal", "scale": {"domain": ["RBC order", "RBC admin"], "range": ["#BF3EFF", "#7FFFD4"]}, "legend": {"legendX": -5, "legendY": -35.5, "padding": 12, "symbolType": "square", "symbolSize": 196, "symbolOpacity": 1}}
     }},
    {"data": {"values": [{}]},
     "mark": {"type": "rule", "color": "#00EE00", "strokeWidth": 1.5},
     "encoding": {"x": {"datum": 0}, "x2": {"datum": 16.5}, "y": {"datum": 0}}}
  ],
  "resolve": {"scale": {"color": "independent"}, "legend": {"color": "independent"}}
},
{
  "width": 1042, "height": 213,
  "title": {"text": "Posterior Probabilitiy of Bleeding (Subject B)", "dy": 31},
  "layer": [
    {"data": {"name": "states"},
     "transform": [{"filter": "datum.s == 'State 2'"}],
     "mark": {"type": "bar", "width": 14.6},
     "encoding": {
       "x": {"field": "t", "type": "quantitative", "title": null, "scale": {"domain": [-0.795, 17.295], "nice": false, "zero": false, "padding": 0}, "axis": {"values": [0,0.25,0.5,0.75,1,1.25,1.5,1.75,2,2.25,2.5,2.75,3,3.25,3.5,3.75,4,4.25,4.5,4.75,5,5.25,5.5,5.75,6,6.25,6.5,6.75,7,7.25,7.5,7.75,8,8.25,8.5,8.75,9,9.25,9.5,9.75,10,10.25,10.5,10.75,11,11.25,11.5,11.75,12,12.25,12.5,12.75,13,13.25,13.5,13.75,14,14.25,14.5,14.75,15,15.25,15.5,15.75,16,16.25,16.5], "tickCount": 500, "labelExpr": "(datum.value < 0.01 || (datum.value < 10 && abs(datum.value % 1 - 0.75) < 0.01) || (datum.value > 10.5 && datum.value < 16.1 && abs(datum.value - round(datum.value)) < 0.01)) ? format(datum.value, '.2~f') : ''", "domain": false, "labelPadding": 15.5, "labelOverlap": false}},
       "y": {"field": "p", "type": "quantitative", "title": null, "scale": {"domain": [0, 1], "nice": false, "zero": false}, "axis": {"values": [0,0.2,0.4,0.6,0.8,1], "labelExpr": "datum.value == 0 ? '0' : datum.value == 1 ? '1' : ''", "labelAngle": 270, "labelAlign": "center", "labelBaseline": "alphabetic", "labelPadding": 16, "domain": true, "labelOverlap": false}},
       "color": {"field": "s", "type": "nominal", "scale": {"domain": ["State 2", "ALERT"], "range": ["#FF3030", "#FFFFFF"]}, "legend": {"legendX": 843, "legendY": -36.5, "padding": 14, "symbolSize": 196, "symbolOpacity": 1}}
     }},
    {"data": {"values": [{}]},
     "mark": {"type": "rule", "color": "#EEEE00", "strokeWidth": 1.8, "strokeDash": [6, 8.4]},
     "encoding": {"y": {"datum": 0.05}}},
    {"data": {"values": [{}]},
     "mark": {"type": "rule", "color": "#00EE00", "strokeWidth": 1.5},
     "encoding": {"x": {"datum": 0}, "x2": {"datum": 16.5}, "y": {"datum": 0}}},
    {"data": {"name": "alerts"},
     "mark": {"type": "point", "filled": true, "size": 170, "opacity": 1},
     "encoding": {
       "x": {"field": "t", "type": "quantitative", "title": null},
       "y": {"datum": 0.944},
       "color": {"field": "s", "type": "nominal", "legend": {"legendX": 843, "legendY": -36.5, "padding": 14, "symbolSize": 196, "symbolOpacity": 1}},
       "shape": {"field": "s", "type": "nominal", "scale": {"domain": ["State 2", "ALERT"], "range": ["square", "M-1,-0.12L1,-0.12L1,0.12L-1,0.12Z M-0.12,-1L0.12,-1L0.12,1L-0.12,1Z M-0.615,-0.785L0.785,0.615L0.615,0.785L-0.785,-0.615Z M-0.785,0.615L0.615,-0.785L0.785,-0.615L-0.615,0.785Z"]}, "legend": {"legendX": 843, "legendY": -36.5, "padding": 14, "symbolSize": 196, "symbolOpacity": 1}}
     }}
  ]
}
]
}
